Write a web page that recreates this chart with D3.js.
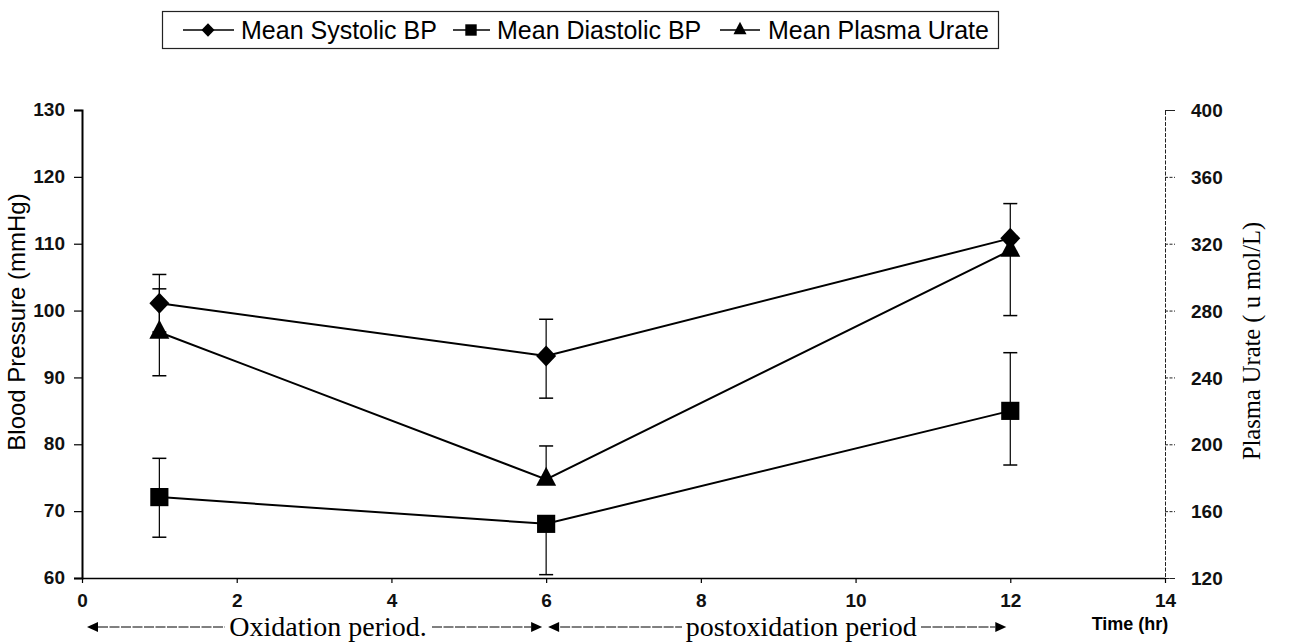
<!DOCTYPE html>
<html><head><meta charset="utf-8">
<script src="https://cdn.jsdelivr.net/npm/d3@7"></script>
<style>
html,body{margin:0;padding:0;background:#fff;}
svg{display:block;}
</style></head>
<body>
<svg id="chart" width="1292" height="643"></svg>
<script>
// ---- data ----
const times = [1, 6, 12];
const systolic = [101.1, 93.2, 110.8];
const systolicUp = [4.3, 5.5, 5.2];
const systolicDown = [4.3, 6.3, 0];
const diastolic = [72.1, 68.1, 85.0];
const diastolicUp = [5.8, 0, 8.7];
const diastolicDown = [6.0, 7.6, 8.1];
const urate = [267, 179, 316];
const urateUp = [26, 20, 0];
const urateDown = [26, 0, 39];
const xTicks = [0, 2, 4, 6, 8, 10, 12, 14];
const bpTicks = [60, 70, 80, 90, 100, 110, 120, 130];
const urateTicks = [120, 160, 200, 240, 280, 320, 360, 400];
const legendLabels = ["Mean Systolic BP", "Mean Diastolic BP", "Mean Plasma Urate"];
const periodLabels = ["Oxidation period.", "postoxidation period"];

const svg = d3.select("#chart");
const x = d3.scaleLinear().domain([0, 14]).range([82, 1165]);
const yBP = d3.scaleLinear().domain([60, 130]).range([578, 110]);
const yU = d3.scaleLinear().domain([120, 400]).range([578, 110]);

const sans = "'Liberation Sans', Arial, sans-serif";
const serif = "'Liberation Serif', 'Times New Roman', serif";

// custom marker shapes (size = width^2)
const diamondType = {draw(ctx, size) { const r = Math.sqrt(size) / 2; ctx.moveTo(0, -r * 1.05); ctx.lineTo(r, 0); ctx.lineTo(0, r * 1.05); ctx.lineTo(-r, 0); ctx.closePath(); }};
const triType = {draw(ctx, size) { const w = Math.sqrt(size), h = w * 0.95; ctx.moveTo(0, -2 * h / 3); ctx.lineTo(w / 2, h / 3); ctx.lineTo(-w / 2, h / 3); ctx.closePath(); }};
const squareType = {draw(ctx, size) { const r = Math.sqrt(size) / 2; ctx.rect(-r, -r, 2 * r, 2 * r); }};

// left axis
const gL = svg.append("g").attr("transform", `translate(${x(0)},0)`)
  .call(d3.axisLeft(yBP).tickValues(bpTicks).tickSize(8).tickPadding(9));
gL.select(".domain").attr("stroke", "#000").attr("stroke-width", 2);
gL.selectAll(".tick line").attr("stroke", "#000").attr("stroke-width", 1.2);
gL.selectAll(".tick text").attr("font-family", sans).attr("font-size", 19).attr("font-weight", "bold").attr("fill", "#111").attr("dy", "0.3em");

// right axis
const gR = svg.append("g").attr("transform", `translate(${x(14)},0)`)
  .call(d3.axisRight(yU).tickValues(urateTicks).tickSize(10).tickPadding(16));
gR.select(".domain").attr("stroke", "#222").attr("stroke-width", 1).attr("stroke-dasharray", "4,1.5");
gR.selectAll(".tick line").attr("stroke", "#222").attr("stroke-width", 1).attr("stroke-dasharray", "3,1.5");
gR.selectAll(".tick text").attr("font-family", sans).attr("font-size", 19).attr("font-weight", "bold").attr("fill", "#111").attr("dy", "0.35em");

// bottom axis
const gB = svg.append("g").attr("transform", `translate(0,${yBP(60)})`)
  .call(d3.axisBottom(x).tickValues(xTicks).tickSize(5).tickPadding(14).tickSizeOuter(0));
gB.select(".domain").attr("stroke", "#000").attr("stroke-width", 1.5);
gB.selectAll(".tick line").attr("stroke", "#000").attr("stroke-width", 1.2);
gB.selectAll(".tick text").attr("font-family", sans).attr("font-size", 19).attr("font-weight", "bold").attr("fill", "#111").attr("dy", "0.55em");

// axis titles
svg.append("text").attr("transform", `translate(25,${322}) rotate(-90)`)
  .attr("text-anchor", "middle").attr("font-family", sans).attr("font-size", 24).attr("fill", "#000")
  .text("Blood Pressure (mmHg)");
svg.append("text").attr("transform", `translate(1260,${341}) rotate(-90)`)
  .attr("text-anchor", "middle").attr("font-family", serif).attr("font-size", 24.5).attr("fill", "#000")
  .text("Plasma Urate ( u mol/L)");
svg.append("text").attr("x", 1130).attr("y", 630).attr("text-anchor", "middle")
  .attr("font-family", sans).attr("font-size", 18).attr("font-weight", "bold").text("Time (hr)");

// period annotations
const annY = 627;
function arrowHead(tip, dir) {
  svg.append("path").attr("d", `M${tip},${annY} L${tip - dir * 11},${annY - 5} L${tip - dir * 11},${annY + 5} Z`).attr("fill", "#000");
}
function dash(a, b) {
  svg.append("line").attr("x1", a).attr("x2", b).attr("y1", annY).attr("y2", annY)
    .attr("stroke", "#000").attr("stroke-width", 1).attr("stroke-dasharray", "10,1.5");
}
arrowHead(x(0) + 5, -1);
dash(x(0) + 16, 225);
dash(432, x(6) - 15);
arrowHead(x(6) - 4, 1);
arrowHead(x(6) + 2, -1);
dash(x(6) + 14, 682);
dash(921, x(12) - 15);
arrowHead(x(12) - 4, 1);
svg.append("text").attr("x", (x(0) + x(6)) / 2 + 14).attr("y", 636).attr("text-anchor", "middle")
  .attr("font-family", serif).attr("font-size", 28).text(periodLabels[0]);
svg.append("text").attr("x", (x(6) + x(12)) / 2 + 23).attr("y", 636).attr("text-anchor", "middle")
  .attr("font-family", serif).attr("font-size", 28).text(periodLabels[1]);

const series = [
  {vals: systolic, up: systolicUp, down: systolicDown, y: yBP, type: diamondType, size: 400},
  {vals: diastolic, up: diastolicUp, down: diastolicDown, y: yBP, type: squareType, size: 330},
  {vals: urate, up: urateUp, down: urateDown, y: yU, type: triType, size: 400}
];

series.forEach(s => {
  const g = svg.append("g");
  times.forEach((t, i) => {
    const cx = x(t);
    const v = s.vals[i];
    [[s.up[i], 1], [s.down[i], -1]].forEach(([e, d]) => {
      if (e <= 0) return;
      const ye = s.y(v + d * e);
      g.append("line").attr("x1", cx).attr("x2", cx).attr("y1", s.y(v)).attr("y2", ye)
        .attr("stroke", "#000").attr("stroke-width", 1.2);
      g.append("line").attr("x1", cx - 7).attr("x2", cx + 7).attr("y1", ye).attr("y2", ye)
        .attr("stroke", "#000").attr("stroke-width", 1.5);
    });
  });
  const line = d3.line().x((d, i) => x(times[i])).y(d => s.y(d));
  g.append("path").datum(s.vals).attr("d", line).attr("fill", "none").attr("stroke", "#000").attr("stroke-width", 2);
  g.selectAll("path.m").data(s.vals).join("path").attr("class", "m")
    .attr("d", d3.symbol().type(s.type).size(s.size))
    .attr("transform", (d, i) => `translate(${x(times[i])},${s.y(d)})`)
    .attr("fill", "#000");
});

// legend
const lg = svg.append("g");
lg.append("rect").attr("x", 162.5).attr("y", 11.5).attr("width", 836).attr("height", 37)
  .attr("fill", "none").attr("stroke", "#222").attr("stroke-width", 1.2);
const legItems = [
  {x0: 183, x1: 234, mx: 208, tx: 241, type: diamondType, size: 170},
  {x0: 453, x1: 490, mx: 471, tx: 497, type: squareType, size: 130},
  {x0: 720, x1: 760, mx: 740, tx: 768, type: triType, size: 170}
];
legItems.forEach((it, i) => {
  const cy = 30;
  lg.append("line").attr("x1", it.x0).attr("x2", it.x1).attr("y1", cy).attr("y2", cy)
    .attr("stroke", "#000").attr("stroke-width", 1.5);
  lg.append("path").attr("d", d3.symbol().type(it.type).size(it.size)).attr("transform", `translate(${it.mx},${cy})`).attr("fill", "#000");
  lg.append("text").attr("x", it.tx).attr("y", 38.5).attr("font-family", sans).attr("font-size", 25)
    .attr("fill", "#000").text(legendLabels[i]);
});
</script>
</body></html>
